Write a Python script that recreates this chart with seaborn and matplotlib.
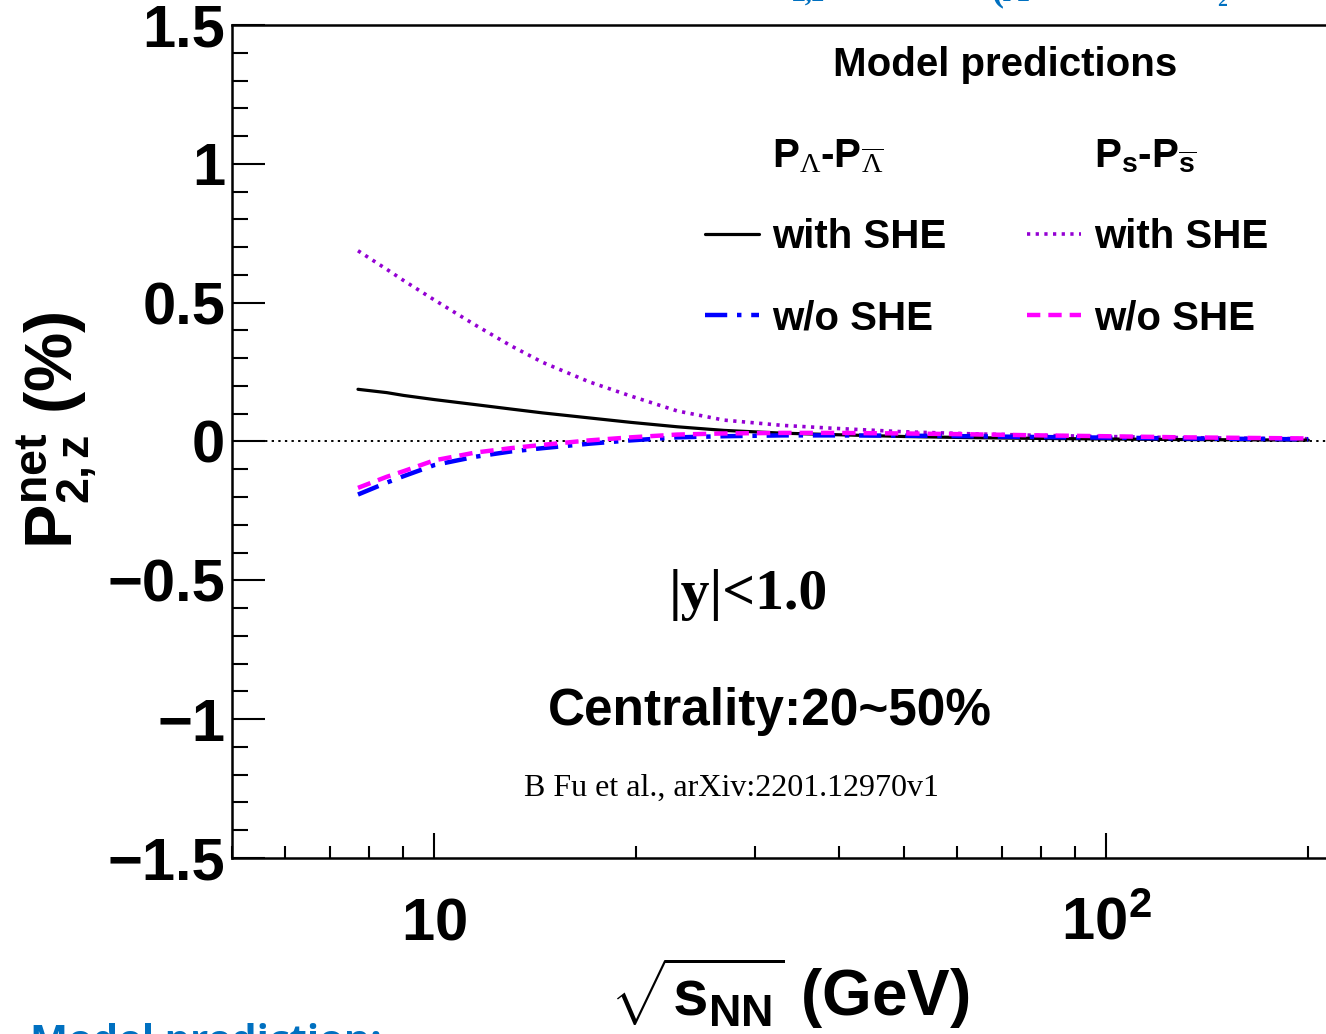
import numpy as np
import pandas as pd
import matplotlib
matplotlib.use("Agg")
import matplotlib.pyplot as plt
import seaborn as sns
from matplotlib.lines import Line2D
from matplotlib.ticker import FixedLocator, NullFormatter

# ---------------- data ----------------
energies = [7.7, 8.5, 9.0, 10.0, 11.5, 13.0, 14.5, 17.0, 19.6, 23.0, 27.0, 33.0, 39.0, 50.0, 62.4, 80.0, 100.0, 130.0, 200.0]
lam_with_she = [0.188, 0.176, 0.166, 0.151, 0.133, 0.117, 0.103, 0.085, 0.069, 0.053, 0.040, 0.030, 0.025,
                0.018, 0.014, 0.011, 0.009, 0.007, 0.005]
lam_wo_she = [-0.191, -0.148, -0.125, -0.085, -0.055, -0.036, -0.024, -0.008, 0.004, 0.015, 0.019, 0.022, 0.022,
              0.021, 0.019, 0.016, 0.014, 0.011, 0.008]
s_with_she = [0.687, 0.62, 0.58, 0.51, 0.42, 0.345, 0.285, 0.215, 0.164, 0.11, 0.077, 0.058, 0.048,
              0.035, 0.028, 0.022, 0.018, 0.014, 0.010]
s_wo_she = [-0.167, -0.127, -0.107, -0.068, -0.040, -0.024, -0.012, 0.004, 0.015, 0.025, 0.029, 0.031, 0.031,
            0.029, 0.026, 0.022, 0.019, 0.015, 0.011]

y_ticks = [-1.5, -1.0, -0.5, 0.0, 0.5, 1.0, 1.5]
y_tick_labels = ["\u22121.5", "\u22121", "\u22120.5", "0", "0.5", "1", "1.5"]
x_ticks = [10, 100]
x_tick_labels = [r"$\mathbf{10}$", r"$\mathbf{10^{2}}$"]

# ---------------- style ----------------
sns.set_theme(style="ticks", rc={
    "text.color": "black", "axes.labelcolor": "black", "axes.edgecolor": "black",
    "xtick.color": "black", "ytick.color": "black",
})
plt.rcParams["font.family"] = ["Liberation Sans", "DejaVu Sans"]
plt.rcParams["mathtext.fontset"] = "custom"
plt.rcParams["mathtext.rm"] = "Liberation Serif"
plt.rcParams["mathtext.it"] = "Liberation Serif:italic"
plt.rcParams["mathtext.bf"] = "Liberation Sans:bold"

fig = plt.figure(figsize=(13.26, 10.34), dpi=100)
W, H = 1326, 1034
ax_left, ax_right, ax_top, ax_bottom = 232, 1326, 25, 858
ax = fig.add_axes([ax_left / W, 1 - ax_bottom / H, (ax_right - ax_left) / W, (ax_bottom - ax_top) / H])

n = len(energies)
df = pd.DataFrame({
    "energy": energies * 4,
    "value": lam_with_she + lam_wo_she + s_with_she + s_wo_she,
    "series": ["lam_with"] * n + ["lam_wo"] * n + ["s_with"] * n + ["s_wo"] * n,
})

styles = {
    "lam_with": dict(color="black", linestyle="-", linewidth=2.3),
    "lam_wo": dict(color="#0000ff", linestyle=(0, (5, 2.2, 1.0, 2.2)), linewidth=3.2),
    "s_with": dict(color="#9400d3", linestyle=(0, (0.9, 1.5)), linewidth=2.6),
    "s_wo": dict(color="#ff00ff", linestyle=(0, (3.0, 1.8)), linewidth=3.2),
}
for key in ["s_with", "lam_with", "lam_wo", "s_wo"]:
    sub = df[df["series"] == key]
    sns.lineplot(data=sub, x="energy", y="value", ax=ax, legend=False, **styles[key])

ax.set_xscale("log")
ax.set_xlim(5, 212.5)
ax.set_ylim(-1.5, 1.5)
ax.axhline(0, color="black", linestyle=(0, (1.2, 2.2)), linewidth=1.4, zorder=0)

# spines
for side in ["left", "bottom", "top"]:
    ax.spines[side].set_linewidth(1.8)
    ax.spines[side].set_color("black")
ax.spines["right"].set_visible(False)

# ticks
ax.set_yticks(y_ticks)
ax.set_yticklabels(y_tick_labels, fontsize=43, fontweight="bold")
ax.yaxis.set_minor_locator(FixedLocator(np.round(np.arange(-1.5, 1.51, 0.1), 2)))
ax.tick_params(axis="y", which="major", direction="in", length=24, width=1.5, pad=5, left=True, right=False)
ax.tick_params(axis="y", which="minor", direction="in", length=11.5, width=1.5, left=True, right=False)

ax.xaxis.set_major_locator(FixedLocator(x_ticks))
ax.set_xticklabels(x_tick_labels, fontsize=43)
ax.xaxis.set_minor_locator(FixedLocator([5, 6, 7, 8, 9, 20, 30, 40, 50, 60, 70, 80, 90, 200]))
ax.xaxis.set_minor_formatter(NullFormatter())
ax.tick_params(axis="x", which="major", direction="in", length=18, width=1.5, pad=59, top=False, bottom=True)
ax.tick_params(axis="x", which="minor", direction="in", length=9, width=1.5, top=False, bottom=True)
for lbl in ax.get_xticklabels():
    lbl.set_verticalalignment("baseline")

# axis labels
ax.set_ylabel(r"$\mathbf{P^{net}_{2,z}}$ (%)", fontsize=48, fontweight="bold")
ax.yaxis.label.set_verticalalignment("center")
ax.yaxis.set_label_coords((57 - ax_left) / (ax_right - ax_left), (ax_bottom - 430) / (ax_bottom - ax_top))
ax.set_xlabel(r"$\sqrt{\mathbf{s_{NN}}}$ (GeV)", fontsize=46, fontweight="bold")
ax.xaxis.label.set_verticalalignment("center")
ax.xaxis.set_label_coords((790 - ax_left) / (ax_right - ax_left), (ax_bottom - 993) / (ax_bottom - ax_top))

# legend
blank = Line2D([], [], linestyle="none")
handles = [
    blank,
    Line2D([], [], **styles["lam_with"]),
    Line2D([], [], **styles["lam_wo"]),
    blank,
    Line2D([], [], **styles["s_with"]),
    Line2D([], [], **styles["s_wo"]),
]
labels = [
    r"P$_{\Lambda}$-P$_{\overline{\Lambda}}$",
    "with SHE",
    "w/o SHE",
    r"P$_{\mathbf{s}}$-P$_{\overline{\mathbf{s}}}$",
    "with SHE",
    "w/o SHE",
]
leg = fig.legend(handles, labels, ncol=2, frameon=False, loc="upper left",
                 bbox_to_anchor=(705 / W, 1 - 137 / H),
                 prop={"weight": "bold", "size": 29},
                 handlelength=1.35, handletextpad=0.32, columnspacing=2.0, labelspacing=1.07,
                 borderpad=0.0, borderaxespad=0.0)


def fig_text(x, y, s, **kw):
    fig.text(x / W, 1 - y / H, s, **kw)


fig_text(1005, 65, "Model predictions", ha="center", va="center", fontsize=29, fontweight="bold")
fig_text(748, 595, "|y|<1.0", ha="center", va="center", fontsize=41.5, fontweight="bold",
         family=["Liberation Serif"])
fig_text(770, 711, "Centrality:20~50%", ha="center", va="center", fontsize=37, fontweight="bold")
fig_text(731, 788, "B Fu et al., arXiv:2201.12970v1", ha="center", va="center", fontsize=23,
         family=["Liberation Serif"])

# slide fragments cut by the figure edge
blue = "#0070c0"
fig_text(30, 1042, "Model prediction:", ha="left", va="center", fontsize=29, fontweight="bold", color=blue,
         family=["Open Sans", "DejaVu Sans"])
fig_text(808, -6, "2,z", ha="center", va="center", fontsize=20, fontweight="bold", color=blue,
         family=["Liberation Serif"])
fig_text(928, -6, "z", ha="center", va="center", fontsize=20, fontweight="bold", color=blue,
         family=["Liberation Serif"])
fig_text(1010, -8, "(\u039b", ha="center", va="center", fontsize=26, fontweight="bold", color=blue,
         family=["Liberation Serif"])
fig_text(1222, 2, "2", ha="center", va="center", fontsize=14, fontweight="bold", color=blue,
         family=["Liberation Serif"])

fig.savefig("out.png", dpi=100)
